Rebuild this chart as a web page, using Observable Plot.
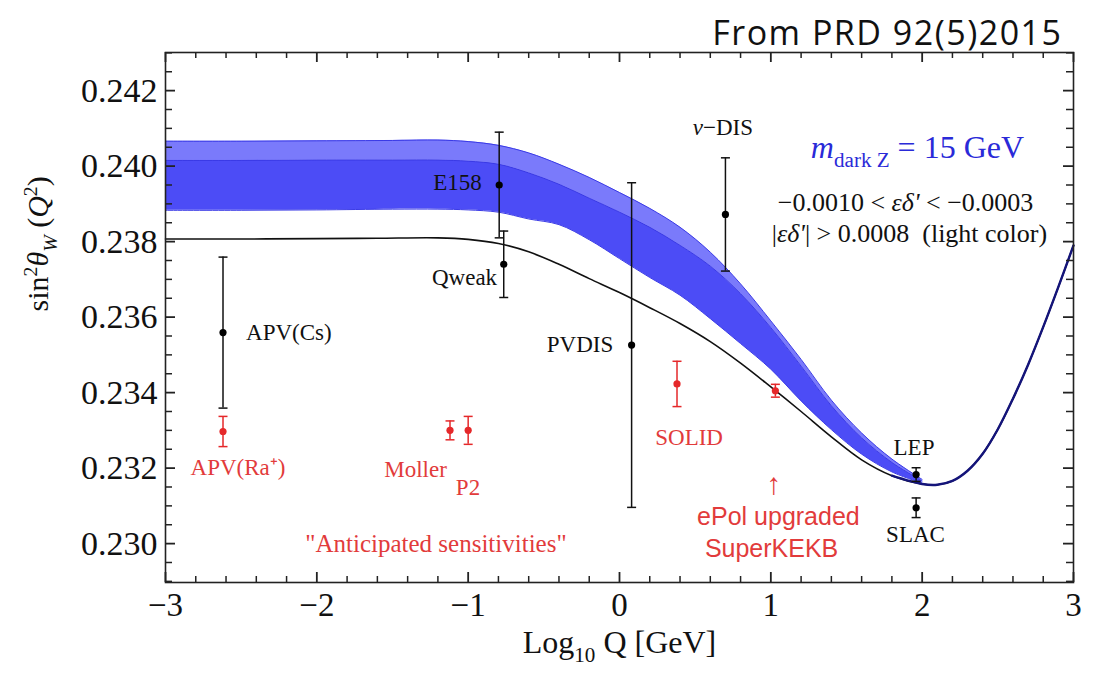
<!DOCTYPE html>
<html>
<head>
<meta charset="utf-8">
<script src="https://cdn.jsdelivr.net/npm/d3@7"></script>
<script src="https://cdn.jsdelivr.net/npm/@observablehq/plot@0.6"></script>
<style>
  html, body { margin: 0; padding: 0; background: #fff; }
  #chart { width: 1099px; height: 675px; }
  svg text { white-space: pre; }
</style>
</head>
<body>
<div id="chart"></div>
<script>
// ---------------- data ----------------
const sourceNote = "From PRD 92(5)2015";
const xTitle = "Log_{10} Q [GeV]";
const yTitle = "sin^{2}*θ*_{*W*} (*Q*^{2})";

const xMajor = [-3, -2, -1, 0, 1, 2, 3];
const yMajor = [0.230, 0.232, 0.234, 0.236, 0.238, 0.240, 0.242];

// Standard-model running curve
const smX = [-3, -2.5, -2, -1.6, -1.2, -1.0, -0.8, -0.6, -0.4, -0.2, 0, 0.2, 0.4, 0.6, 0.8, 1.0, 1.2, 1.4, 1.6, 1.8, 2.0, 2.1, 2.2, 2.3, 2.4, 2.5, 2.6, 2.7, 2.8, 2.9, 3.0];
const smY = [0.23807, 0.23807, 0.23808, 0.23809, 0.23810, 0.23806, 0.23795, 0.23773, 0.23740, 0.23702, 0.23665, 0.23625, 0.23583, 0.23535, 0.23478, 0.23415, 0.23350, 0.23283, 0.23222, 0.23180, 0.23158, 0.23156, 0.23166, 0.23193, 0.23238, 0.23303, 0.23384, 0.23474, 0.23574, 0.23680, 0.23790];

// Dark-Z band
const bandX     = [-3, -2.5, -2, -1.5, -1.2, -1.0, -0.8, -0.6, -0.4, -0.2, 0, 0.2, 0.4, 0.6, 0.8, 1.0, 1.2, 1.4, 1.6, 1.8, 2.0];
const bandUpper = [0.24066, 0.24066, 0.24067, 0.24068, 0.24069, 0.24065, 0.24055, 0.24035, 0.24005, 0.23970, 0.23930, 0.23888, 0.23838, 0.23772, 0.23688, 0.23590, 0.23488, 0.23380, 0.23293, 0.23224, 0.23170];
const bandMid   = [0.24015, 0.24015, 0.24016, 0.24016, 0.24016, 0.24013, 0.24005, 0.23982, 0.23952, 0.23915, 0.23878, 0.23838, 0.23790, 0.23735, 0.23662, 0.23572, 0.23470, 0.23365, 0.23280, 0.23215, 0.23166];
const bandLower = [0.23883, 0.23883, 0.23884, 0.23886, 0.23886, 0.23884, 0.23878, 0.23860, 0.23845, 0.23805, 0.23755, 0.23705, 0.23658, 0.23596, 0.23530, 0.23462, 0.23378, 0.23302, 0.23237, 0.23190, 0.23160];

// Measurements (black)
const expNames = ["APV(Cs)", "E158", "Qweak", "PVDIS", "ν-DIS", "LEP", "SLAC"];
const expX   = [-2.62, -0.795, -0.765, 0.08, 0.70, 1.96, 1.96];
const expY   = [0.23559, 0.2395, 0.2374, 0.23526, 0.23872, 0.23183, 0.23095];
const expErr = [0.0020, 0.0014, 0.00088, 0.0043, 0.0015, 0.00018, 0.00026];

// Anticipated sensitivities (red)
const projNames = ["APV(Ra+)", "Moller", "P2", "SOLID", "SuperKEKB"];
const projX   = [-2.62, -1.12, -1.0, 0.38, 1.03];
const projY   = [0.23297, 0.2330, 0.2330, 0.23423, 0.23405];
const projErr = [0.0004, 0.00025, 0.00037, 0.0006, 0.00017];

// Annotations (data coordinates)
const expLabelText = ["APV(Cs)", "E158", "Qweak", "PVDIS", "*ν*−DIS", "LEP", "SLAC"];
const expLabelX = [-2.185, -1.07, -1.024, -0.261, 0.683, 1.946, 1.956];
const expLabelY = [0.23559, 0.23955, 0.23705, 0.23526, 0.24103, 0.23255, 0.23025];

const projLabelText = ["APV(Ra⁺)", "Moller", "P2", "SOLID"];
const projLabelX = [-2.521, -1.348, -1.001, 0.46];
const projLabelY = [0.2320, 0.23195, 0.23148, 0.2328];

const noteText = "\"Anticipated sensitivities\"";
const noteX = -1.213, noteY = 0.22999;

const kekbText = ["↑", "ePol upgraded", "SuperKEKB"];
const kekbX = [1.02, 1.05, 1.005];
const kekbY = [0.23156, 0.23070, 0.22986];

const modelText = ["*m*_{dark Z} = 15 GeV", "−0.0010 < *εδ'* < −0.0003", "|*εδ'*| > 0.0008  (light color)"];
const modelX = [1.969, 1.890, 1.916];
const modelY = [0.2405, 0.23904, 0.23821];

// ---------------- build tables ----------------
const sm = smX.map((x, i) => ({x, y: smY[i]}));
const band = bandX.map((x, i) => ({x, lo: bandLower[i], mid: bandMid[i], hi: bandUpper[i]}));
const exp = expNames.map((n, i) => ({name: n, x: expX[i], y: expY[i], e: expErr[i]}));
const proj = projNames.map((n, i) => ({name: n, x: projX[i], y: projY[i], e: projErr[i]}));
const expLabels = expLabelText.map((t, i) => ({t, x: expLabelX[i], y: expLabelY[i]}));
const projLabels = projLabelText.map((t, i) => ({t, x: projLabelX[i], y: projLabelY[i]}));
const kekbLabels = kekbText.map((t, i) => ({t, x: kekbX[i], y: kekbY[i]}));
const modelLabels = modelText.map((t, i) => ({t, x: modelX[i], y: modelY[i]}));

const xDom = [-3, 3], yDom = [0.22897, 0.24301];

// minor tick positions (axis decoration)
const xMinor = d3.range(-3, 3.0001, 0.2).map(v => +v.toFixed(2)).filter(v => !xMajor.includes(v));
const yMinor = d3.range(0.2290, 0.24301, 0.0005).map(v => +v.toFixed(4)).filter(v => !yMajor.some(m => Math.abs(m - v) < 1e-6));

const W = 1099, H = 675;
const mL = 165, mR = 26, mT = 52, mB = 93;
const fw = W - mL - mR, fh = H - mT - mB;
const perPxX = (xDom[1] - xDom[0]) / fw;   // data units per pixel
const perPxY = (yDom[1] - yDom[0]) / fh;

const serif = "'Liberation Serif', 'Times New Roman', serif";
const sans = "'Liberation Sans', Arial, sans-serif";
const RED = "#e5282a";
const RED_TXT = "#e23b3b";
const LIGHT = "#7a7afb";
const DARK = "#4c4cf6";
const EDGE = "#3a3ae6";
const NAVY = "#14147a";
const AX = "#222";

const capSymbol = {draw(ctx, size) { const w = Math.sqrt(size / Math.PI); ctx.moveTo(-w, 0); ctx.lineTo(w, 0); }};
const fmtX = d => d < 0 ? "−" + (-d) : String(d);

// inward ticks, length given in pixels
const ticksBottom = (vals, len, sw) => Plot.ruleX(vals, {x: d => d, y1: () => yDom[0], y2: () => yDom[0] + len * perPxY, stroke: AX, strokeWidth: sw});
const ticksTop    = (vals, len, sw) => Plot.ruleX(vals, {x: d => d, y1: () => yDom[1], y2: () => yDom[1] - len * perPxY, stroke: AX, strokeWidth: sw});
const ticksLeft   = (vals, len, sw) => Plot.ruleY(vals, {y: d => d, x1: () => xDom[0], x2: () => xDom[0] + len * perPxX, stroke: AX, strokeWidth: sw});
const ticksRight  = (vals, len, sw) => Plot.ruleY(vals, {y: d => d, x1: () => xDom[1], x2: () => xDom[1] - len * perPxX, stroke: AX, strokeWidth: sw});

const plot = Plot.plot({
  width: W, height: H,
  marginLeft: mL, marginRight: mR, marginTop: mT, marginBottom: mB,
  style: {fontFamily: serif, color: "#111", background: "white", overflow: "visible"},
  x: {domain: xDom, axis: null},
  y: {domain: yDom, axis: null},
  marks: [
    // band
    Plot.areaY(band, {x: "x", y1: "mid", y2: "hi", fill: LIGHT, curve: "catmull-rom"}),
    Plot.areaY(band, {x: "x", y1: "lo", y2: "mid", fill: DARK, curve: "catmull-rom"}),
    Plot.lineY(band, {x: "x", y: "hi", stroke: EDGE, strokeWidth: 1, curve: "catmull-rom"}),
    Plot.lineY(band, {x: "x", y: "mid", stroke: EDGE, strokeWidth: 1, curve: "catmull-rom"}),
    Plot.lineY(band, {x: "x", y: "lo", stroke: EDGE, strokeWidth: 1, curve: "catmull-rom"}),
    // SM curve
    Plot.lineY(sm, {x: "x", y: "y", stroke: "#111", strokeWidth: 1.6, curve: "catmull-rom"}),
    Plot.lineY(sm.filter(d => d.x >= 1.8), {x: "x", y: "y", stroke: NAVY, strokeWidth: 2.4, curve: "catmull-rom"}),
    // black measurements
    Plot.ruleX(exp, {x: "x", y1: d => d.y - d.e, y2: d => d.y + d.e, stroke: "#111", strokeWidth: 1.5}),
    Plot.dot(exp, {x: "x", y: d => d.y + d.e, r: 4.5, symbol: capSymbol, stroke: "#111", fill: "none", strokeWidth: 1.5}),
    Plot.dot(exp, {x: "x", y: d => d.y - d.e, r: 4.5, symbol: capSymbol, stroke: "#111", fill: "none", strokeWidth: 1.5}),
    Plot.dot(exp, {x: "x", y: "y", r: 3.6, fill: "#000"}),
    // red projections
    Plot.ruleX(proj, {x: "x", y1: d => d.y - d.e, y2: d => d.y + d.e, stroke: RED, strokeWidth: 1.5}),
    Plot.dot(proj, {x: "x", y: d => d.y + d.e, r: 4.5, symbol: capSymbol, stroke: RED, fill: "none", strokeWidth: 1.5}),
    Plot.dot(proj, {x: "x", y: d => d.y - d.e, r: 4.5, symbol: capSymbol, stroke: RED, fill: "none", strokeWidth: 1.5}),
    Plot.dot(proj, {x: "x", y: "y", r: 3.6, fill: RED}),
    // labels
    Plot.text(expLabels, {x: "x", y: "y", text: "t", fontSize: 23, fill: "#111"}),
    Plot.text(projLabels, {x: "x", y: "y", text: "t", fontSize: 23, fill: RED_TXT}),
    Plot.text([noteText], {x: noteX, y: noteY, text: d => d, fontSize: 25, fill: RED_TXT}),
    Plot.text(kekbLabels.slice(0, 1), {x: "x", y: "y", text: "t", fontSize: 30, fill: RED_TXT, fontFamily: sans}),
    Plot.text(kekbLabels.slice(1), {x: "x", y: "y", text: "t", fontSize: 25, fill: RED_TXT, fontFamily: sans}),
    Plot.text(modelLabels.slice(0, 1), {x: "x", y: "y", text: "t", fontSize: 32, fill: "#2a2ad8"}),
    Plot.text(modelLabels.slice(1), {x: "x", y: "y", text: "t", fontSize: 26, fill: "#111"}),
    // frame & inward ticks on all sides
    Plot.frame({stroke: AX, strokeWidth: 1.6}),
    ticksBottom(xMajor, 10, 1.8), ticksBottom(xMinor, 6, 1.5),
    ticksTop(xMajor, 10, 1.8), ticksTop(xMinor, 6, 1.5),
    ticksLeft(yMajor, 10, 1.8), ticksLeft(yMinor, 7, 1.5),
    ticksRight(yMajor, 10, 1.8), ticksRight(yMinor, 7, 1.5),
    // tick labels
    Plot.axisX(xMajor, {tickSize: 0, tickPadding: 10, fontSize: 33, tickFormat: fmtX, label: null}),
    Plot.axisY(yMajor, {tickSize: 0, tickPadding: 8, fontSize: 34, tickFormat: d3.format(".3f"), label: null}),
    // axis titles
    Plot.text([xTitle], {frameAnchor: "bottom", dy: 70, text: d => d, fontSize: 32, fill: "#111"}),
    Plot.text([yTitle], {frameAnchor: "left", dx: -127, dy: -6, rotate: -90, text: d => d, fontSize: 30, fill: "#111"}),
    // source note
    Plot.text([sourceNote], {frameAnchor: "top-right", dx: -11, dy: -32, textAnchor: "end", text: d => d, fontSize: 34, fontFamily: "'Open Sans', sans-serif", fill: "#111"})
  ]
});

document.getElementById("chart").appendChild(plot);

// rich text: ^{..} superscript, _{..} subscript, *..* italic
function richify(el, src) {
  const fs = parseFloat(getComputedStyle(el).fontSize) || 16;
  while (el.firstChild) el.removeChild(el.firstChild);
  const parts = src.split(/(\^\{[^}]*\}|_\{[^}]*\})/);
  let shift = 0;
  for (const part of parts) {
    if (!part) continue;
    let kind = null, body = part;
    if (part.startsWith("^{")) { kind = "sup"; body = part.slice(2, -1); }
    else if (part.startsWith("_{")) { kind = "sub"; body = part.slice(2, -1); }
    const target = kind === "sup" ? -0.38 * fs : kind === "sub" ? 0.3 * fs : 0;
    const segs = body.split(/(\*[^*]+\*)/);
    let first = true;
    for (const s of segs) {
      if (!s) continue;
      const ital = s.length > 1 && s.startsWith("*") && s.endsWith("*");
      const ts = document.createElementNS("http://www.w3.org/2000/svg", "tspan");
      ts.textContent = ital ? s.slice(1, -1) : s;
      if (ital) ts.setAttribute("font-style", "italic");
      if (kind) ts.setAttribute("font-size", (0.66 * fs).toFixed(1));
      if (first) { ts.setAttribute("dy", (target - shift).toFixed(2)); shift = target; first = false; }
      el.appendChild(ts);
    }
  }
}
const richSources = new Set([xTitle, yTitle, ...expLabelText, ...modelText]);
plot.querySelectorAll("text").forEach(t => {
  const s = t.textContent;
  if (richSources.has(s) && /[\^_*]/.test(s)) richify(t, s);
  if (s === sourceNote) t.style.letterSpacing = "1.5px";
});
</script>
</body>
</html>
